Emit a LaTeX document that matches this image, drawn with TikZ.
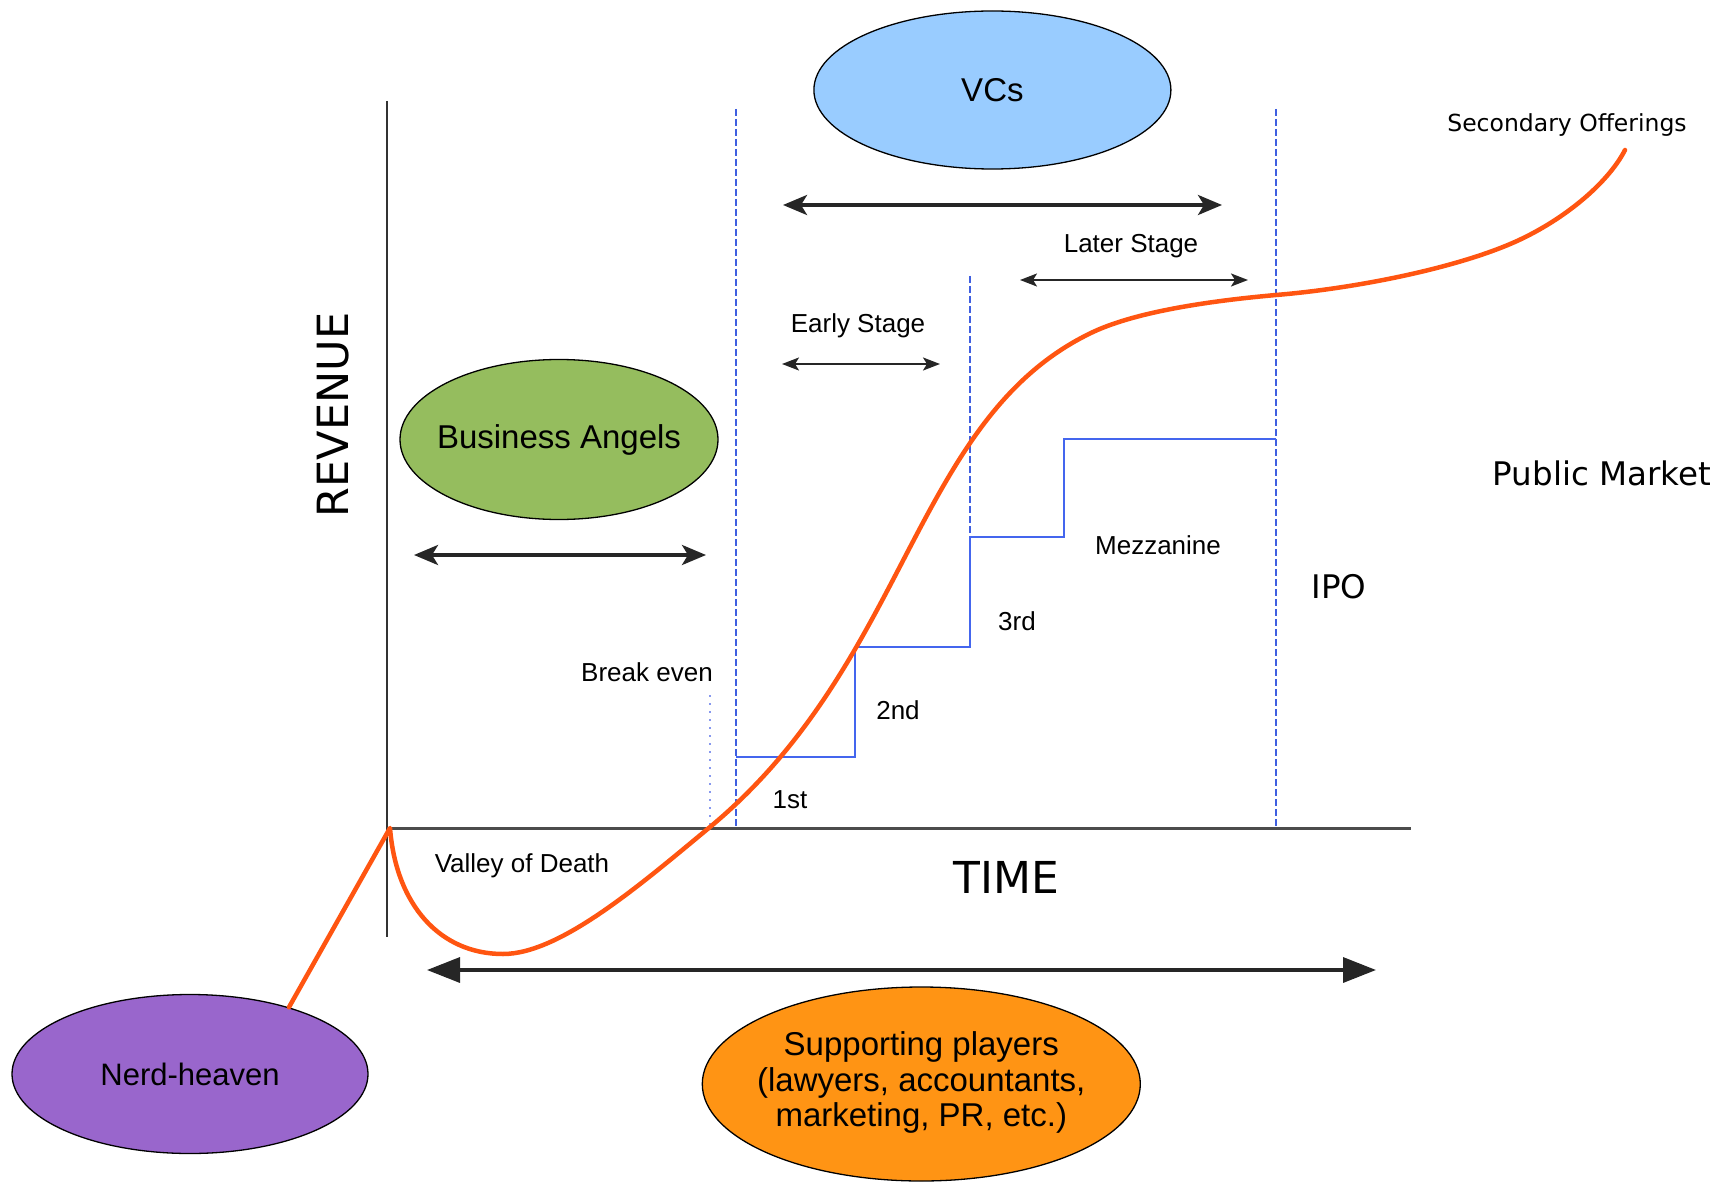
\documentclass[tikz,border=0pt]{standalone}
\usepackage{fontspec}
\setmainfont{Liberation Sans}
\newfontfamily\dvs{DejaVu Sans}
\usetikzlibrary{arrows.meta,shapes.geometric}
\definecolor{vcblue}{HTML}{99CCFF}
\definecolor{angelgreen}{HTML}{95BD5E}
\definecolor{nerdpurple}{HTML}{9966CC}
\definecolor{supporange}{HTML}{FF9414}
\definecolor{curveorange}{HTML}{FF5511}
\definecolor{stepblue}{HTML}{4466EE}
\definecolor{dashblue}{HTML}{3F5FE0}
\definecolor{dotblue}{HTML}{8899EE}
\newcommand{\zw}[1]{\makebox[0pt][c]{#1}}
\begin{document}
\begin{tikzpicture}[x=1pt,y=-1pt,
  blob/.style={ellipse,draw=black,line width=1.3pt,inner sep=0pt,
    font=\fontsize{33}{38}\selectfont},
  lbl/.style={inner sep=0pt,font=\fontsize{26}{30}\selectfont},
  biglbl/.style={inner sep=0pt,font=\dvs\fontsize{32.5}{38}\selectfont},
  axisline/.style={line width=1.6pt,draw=black!80},
  stageline/.style={dashblue,line width=2pt,dash pattern=on 7pt off 3pt},
  stepline/.style={stepblue,line width=2pt},
  bigarrow/.style={line width=3.5pt,black!85,{Stealth[length=24pt,width=20pt,inset=6pt]}-{Stealth[length=24pt,width=20pt,inset=6pt]}},
  smallarrow/.style={line width=2.2pt,black!85,{Stealth[length=17pt,width=13pt,inset=4pt]}-{Stealth[length=17pt,width=13pt,inset=4pt]}},
  timearrow/.style={line width=3.5pt,black!85,{Triangle[length=33pt,width=25pt]}-{Triangle[length=33pt,width=25pt]}},
  revcurve/.style={curveorange,line width=4.5pt,line cap=round,line join=round}
]
\useasboundingbox (0,0) rectangle (1729,1182);

% ellipses
\node[blob,fill=vcblue,minimum width=357pt,minimum height=158pt] (vcs) at (992.4,90) {\zw{VCs}};
\node[blob,fill=angelgreen,minimum width=318pt,minimum height=160pt] (angels) at (559,439.5) {\zw{Business Angels}};
\node[blob,fill=nerdpurple,minimum width=356pt,minimum height=159pt,font=\fontsize{31}{36}\selectfont] (nerd) at (190,1074) {\zw{Nerd-heaven}};
\node[blob,fill=supporange,minimum width=438pt,minimum height=194pt] (support) at (921.3,1084)
  {\zw{\renewcommand{\arraystretch}{0.93}\begin{tabular}{@{}c@{}}Supporting players\\(lawyers, accountants,\\marketing, PR, etc.)\end{tabular}}};

% axes
\coordinate (origin) at (387,828);
\coordinate (ytop) at (387,101);
\coordinate (ybot) at (387,937);
\coordinate (xend) at (1411,828);
\draw[axisline,line width=1.6pt] (ytop) -- (ybot);
\draw[axisline,line width=3pt,draw=black!70] (origin) -- (xend);

% stage lines
\coordinate (d1t) at (736,109); \coordinate (d1b) at (736,827);
\coordinate (d2t) at (970,276); \coordinate (d2b) at (970,537);
\coordinate (d3t) at (1276,109); \coordinate (d3b) at (1276,827);
\coordinate (dot1) at (710,695); \coordinate (dot2) at (710,827);
\draw[stageline] (d1t) -- (d1b);
\draw[stageline] (d2t) -- (d2b);
\draw[stageline] (d3t) -- (d3b);
\draw[dotblue,line width=2pt,dash pattern=on 2pt off 6pt] (dot1) -- (dot2);

% funding steps
\coordinate (s0) at (736,756.5);
\coordinate (s1) at (854.6,756.5);
\coordinate (s2) at (854.6,647.3);
\coordinate (s3) at (970,647.3);
\coordinate (s4) at (970,537);
\coordinate (s5) at (1064,537);
\coordinate (s6) at (1064,439);
\coordinate (s7) at (1276,439);
\draw[stepline] (s0) -- (s1) -- (s2) -- (s3) -- (s4) -- (s5) -- (s6) -- (s7);

% arrows
\coordinate (vcL) at (783,205); \coordinate (vcR) at (1222,205);
\coordinate (laL) at (1020,280); \coordinate (laR) at (1248,280);
\coordinate (eaL) at (782,364); \coordinate (eaR) at (940,364);
\coordinate (baL) at (414,555); \coordinate (baR) at (706,555);
\coordinate (tmL) at (427,970); \coordinate (tmR) at (1376,970);
\draw[bigarrow] (vcL) -- (vcR);
\draw[smallarrow] (laL) -- (laR);
\draw[smallarrow] (eaL) -- (eaR);
\draw[bigarrow] (baL) -- (baR);
\draw[timearrow] (tmL) -- (tmR);

% revenue curve
\coordinate (peak) at (390,828);
\coordinate (valleybot) at (503,954);
\coordinate (breakpt) at (710,827);
\coordinate (shoulder) at (1093,332);
\coordinate (ipopt) at (1276,295);
\coordinate (late) at (1517,241);
\coordinate (secend) at (1625,150);
\draw[revcurve] (nerd.34) -- (peak)
  .. controls (396,905) and (440,954) .. (valleybot)
  .. controls (560,954) and (640,885) .. (breakpt)
  .. controls (910,661) and (913,417) .. (shoulder)
  .. controls (1140,310) and (1220,300) .. (ipopt)
  .. controls (1360,288) and (1460,267) .. (late)
  .. controls (1565,219) and (1608,183) .. (secend);

% labels
\node[inner sep=0pt,font=\dvs\fontsize{23.5}{28}\selectfont] (secondary) at (1567,125) {Secondary Offerings};
\node[lbl] (later) at (1131,246) {Later Stage};
\node[lbl] (early) at (858,326) {Early Stage};
\node[biglbl] (public) at (1602,473) {Public Market};
\node[lbl] (mezz) at (1158,545) {Mezzanine};
\node[lbl] (third) at (1017,621) {3rd};
\node[biglbl] (ipo) at (1339,587) {IPO};
\node[lbl] (breakeven) at (647,672) {Break even};
\node[lbl] (second) at (898,710) {2nd};
\node[lbl] (first) at (790,800) {1st};
\node[lbl] (valley) at (522,866) {Valley of Death};
\node[inner sep=0pt,font=\dvs\fontsize{44}{50}\selectfont] (time) at (1006,877) {TIME};
\node[inner sep=0pt,font=\dvs\fontsize{43}{50}\selectfont,rotate=90] (revenue) at (333,415) {REVENUE};
\end{tikzpicture}
\end{document}
